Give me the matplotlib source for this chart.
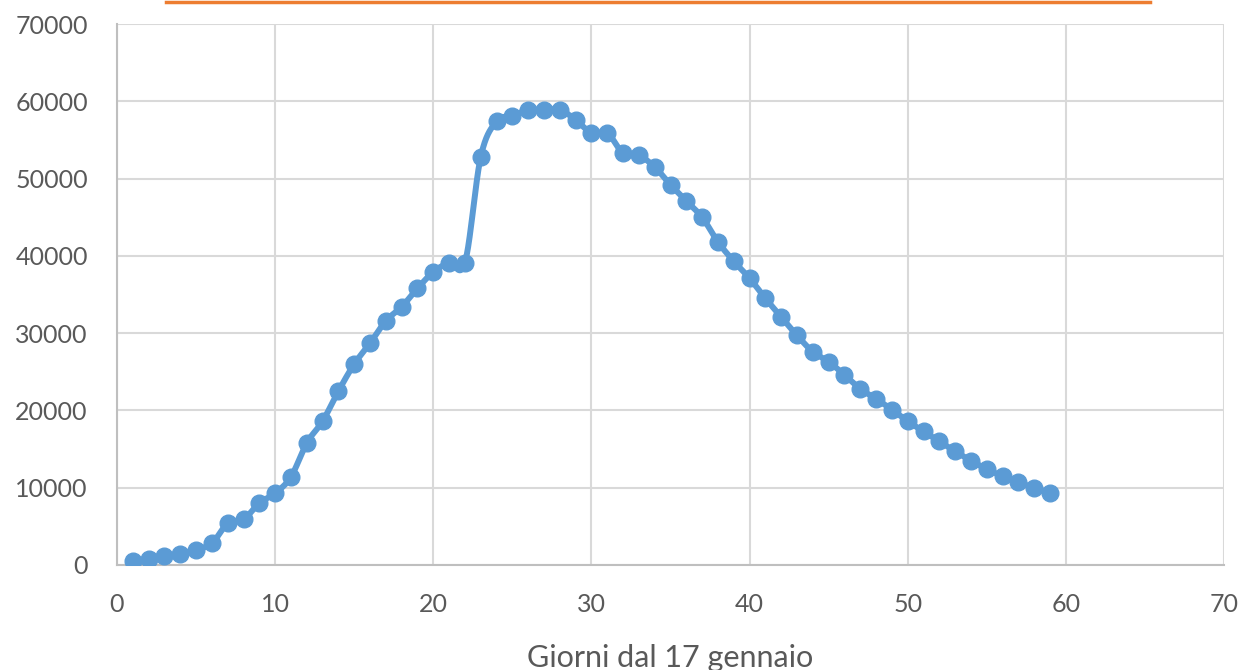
import numpy as np
import matplotlib
matplotlib.use("Agg")
import matplotlib.pyplot as plt
from matplotlib.lines import Line2D

# days since 17 January, and values
giorni = list(range(1, 60))
valori = [500, 800, 1100, 1400, 2000, 2800, 5400, 5900, 8000, 9300,
          11400, 15800, 18600, 22500, 26000, 28700, 31600, 33400, 35800, 37900,
          39100, 39100, 52800, 57400, 58100, 58900, 58900, 58900, 57600, 55900,
          55900, 53300, 53000, 51500, 49200, 47100, 45000, 41800, 39300, 37100,
          34500, 32100, 29700, 27600, 26300, 24600, 22800, 21500, 20100, 18600,
          17300, 16000, 14700, 13500, 12400, 11500, 10700, 10000, 9300]
xticks = list(range(0, 80, 10))
yticks = list(range(0, 80000, 10000))

BLUE = "#5b9bd5"
GRAY = "#595959"


def catmull_rom(x, y, n=20):
    # Excel-style smoothed line through the points
    x = np.asarray(x, float)
    y = np.asarray(y, float)
    px = np.concatenate([[2 * x[0] - x[1]], x, [2 * x[-1] - x[-2]]])
    py = np.concatenate([[2 * y[0] - y[1]], y, [2 * y[-1] - y[-2]]])
    xs, ys = [], []
    t = np.linspace(0, 1, n, endpoint=False)
    for i in range(1, len(px) - 2):
        for p, out in ((px, xs), (py, ys)):
            p0, p1, p2, p3 = p[i - 1], p[i], p[i + 1], p[i + 2]
            out.append(0.5 * ((2 * p1) + (-p0 + p2) * t
                              + (2 * p0 - 5 * p1 + 4 * p2 - p3) * t ** 2
                              + (-p0 + 3 * p1 - 3 * p2 + p3) * t ** 3))
    xs.append([x[-1]])
    ys.append([y[-1]])
    return np.concatenate(xs), np.concatenate(ys)


plt.rcParams["font.family"] = ["Lato", "DejaVu Sans"]

fig = plt.figure(figsize=(12.42, 6.70), dpi=100)
ax = fig.add_axes([117 / 1242, 1 - 565 / 670, (1224 - 117) / 1242, (565 - 24) / 670])

sx, sy = catmull_rom(giorni, valori)
ax.plot(sx, sy, color=BLUE, lw=4.3, solid_capstyle="round", zorder=3)
ax.plot(giorni, valori, "o", color=BLUE, ms=12, zorder=4)

ax.set_xlim(0, 70)
ax.set_ylim(0, 70000)
ax.set_xticks(xticks)
ax.set_yticks(yticks)
ax.grid(True, color="#d9d9d9", lw=1.5)
ax.set_axisbelow(True)
for s in ("top", "right"):
    ax.spines[s].set_visible(False)
for s in ("left", "bottom"):
    ax.spines[s].set_color("#bfbfbf")
    ax.spines[s].set_linewidth(1.5)
ax.tick_params(length=0, labelsize=18, colors=GRAY)
ax.tick_params(axis="x", pad=20)
ax.tick_params(axis="y", pad=21)
ax.set_xlabel("Giorni dal 17 gennaio", fontsize=22, color=GRAY, labelpad=20)

# orange rule at the very top (cut-off title area)
fig.add_artist(Line2D([166 / 1242, 1150 / 1242], [1 - 2 / 670, 1 - 2 / 670],
                      color="#ed7d31", lw=2.5, transform=fig.transFigure))

fig.savefig("out.png", dpi=100)
